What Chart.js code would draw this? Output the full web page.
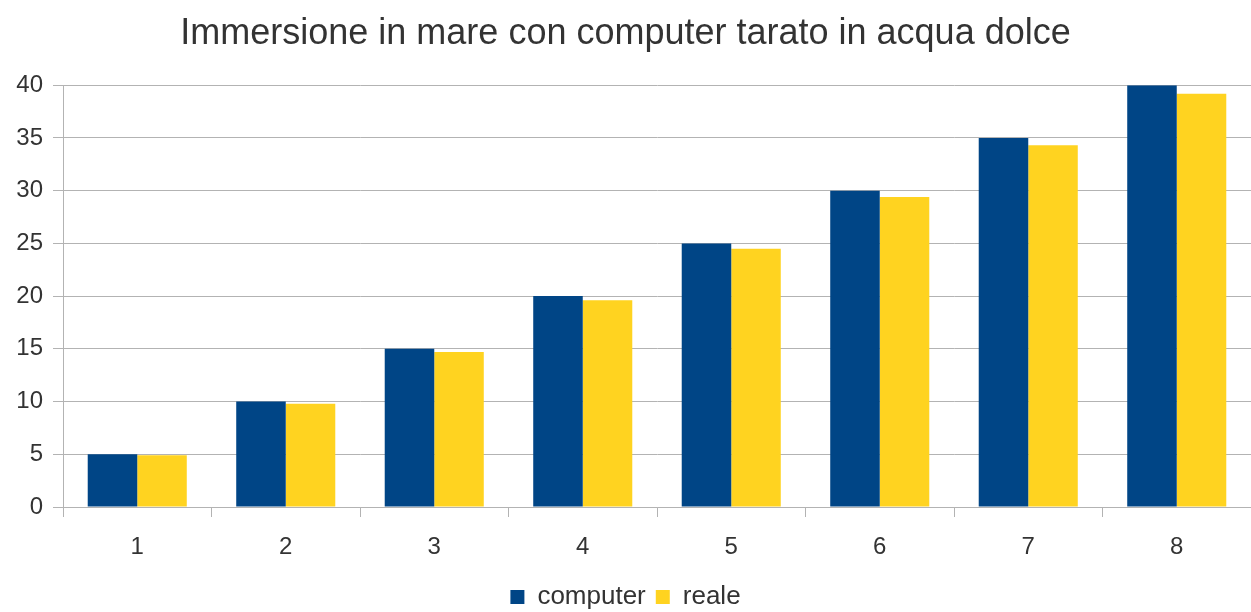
<!DOCTYPE html>
<html>
<head>
<meta charset="utf-8">
<script src="https://cdn.jsdelivr.net/npm/chart.js@4/dist/chart.umd.min.js"></script>
<style>
  html, body { margin: 0; padding: 0; background: #fff; }
  #wrap { width: 1251px; height: 612px; }
</style>
</head>
<body>
<div id="wrap"><canvas id="barChart"></canvas></div>
<script>
// chart data
var categories = ["1", "2", "3", "4", "5", "6", "7", "8"];
var computerValues = [5, 10, 15, 20, 25, 30, 35, 40];
var realeValues = [4.9, 9.8, 14.7, 19.6, 24.5, 29.4, 34.3, 39.2];

var textColor = "#333333";
var gridColor = "#b3b3b3";

var ctx = document.getElementById("barChart").getContext("2d");

var myBarChart = new Chart(ctx, {
  type: "bar",
  data: {
    labels: categories,
    datasets: [
      {
        label: "computer",
        data: computerValues,
        backgroundColor: "#004586",
        categoryPercentage: 0.667,
        barPercentage: 1.0,
      },
      {
        label: "reale",
        data: realeValues,
        backgroundColor: "#ffd320",
        categoryPercentage: 0.667,
        barPercentage: 1.0,
      },
    ],
  },
  options: {
    responsive: true,
    maintainAspectRatio: false,
    animation: false,
    layout: {
      padding: { top: 0, right: 0, bottom: -8, left: 0 }, // legend sits close to the bottom edge
    },
    scales: {
      x: {
        grid: {
          offset: true,
          drawOnChartArea: false, // only the small tick marks under the axis
          drawTicks: true,
          tickLength: 10,
          color: gridColor,
        },
        border: { display: true, color: gridColor },
        ticks: {
          color: textColor,
          font: { family: "Liberation Sans", size: 24 },
          padding: 16,
        },
        afterFit: function (scale) {
          scale.height = 67;
        },
      },
      y: {
        min: 0,
        max: 40,
        ticks: {
          stepSize: 5,
          color: textColor,
          font: { family: "Liberation Sans", size: 24 },
          padding: 10,
        },
        grid: {
          color: gridColor,
          tickLength: 10,
        },
        border: { display: true, color: gridColor },
        afterFit: function (scale) {
          scale.width = 63;
        },
      },
    },
    plugins: {
      title: {
        display: true,
        text: "Immersione in mare con computer tarato in acqua dolce",
        color: textColor,
        font: { family: "Liberation Sans", size: 36, weight: "normal" },
        padding: { top: 12, bottom: 30 },
      },
      legend: {
        position: "bottom",
        labels: {
          color: textColor,
          font: { family: "Liberation Sans", size: 26 },
          boxWidth: 14,
          boxHeight: 14,
          padding: 10,
        },
      },
      tooltip: { enabled: false },
    },
  },
});
</script>
</body>
</html>
